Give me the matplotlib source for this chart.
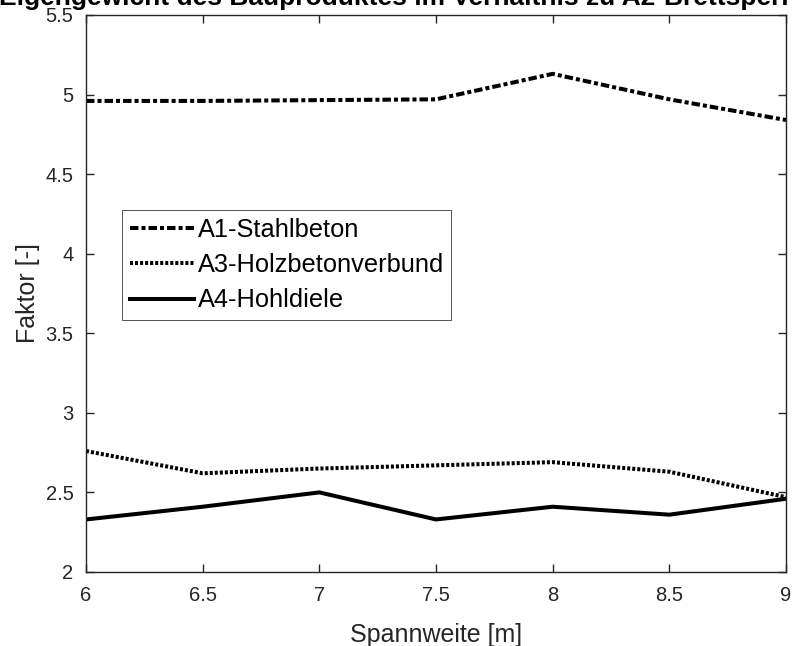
import matplotlib
matplotlib.use("Agg")
import matplotlib.pyplot as plt

plt.rcParams['font.family'] = ['Liberation Sans', 'DejaVu Sans']

spannweite = [6, 6.5, 7, 7.5, 8, 8.5, 9]
a1_stahlbeton = [4.96, 4.96, 4.965, 4.97, 5.13, 4.97, 4.84]
a3_holzbeton = [2.76, 2.62, 2.65, 2.67, 2.69, 2.63, 2.47]
a4_hohldiele = [2.33, 2.41, 2.50, 2.33, 2.41, 2.36, 2.46]

xticks = [6, 6.5, 7, 7.5, 8, 8.5, 9]
yticks = [2, 2.5, 3, 3.5, 4, 4.5, 5, 5.5]

fig = plt.figure(figsize=(7.92, 6.46), dpi=100)
ax = fig.add_axes([0.1086, 0.1146, 0.8838, 0.8622])

lw = 2.9
ax.plot(spannweite, a1_stahlbeton, color='black', lw=lw, linestyle=(0, (2.1, 0.75, 1.0, 0.75)), label='A1-Stahlbeton')
ax.plot(spannweite, a3_holzbeton, color='black', lw=lw, linestyle=(0, (0.75, 0.5)), label='A3-Holzbetonverbund')
ax.plot(spannweite, a4_hohldiele, color='black', lw=lw, linestyle='-', label='A4-Hohldiele')

ax.set_xlim(6, 9)
ax.set_ylim(2, 5.5)
ax.set_xticks(xticks)
ax.set_xticklabels(['6', '6.5', '7', '7.5', '8', '8.5', '9'])
ax.set_yticks(yticks)
ax.set_yticklabels(['2', '2.5', '3', '3.5', '4', '4.5', '5', '5.5'])
ax.tick_params(direction='in', top=True, right=True, labelsize=14.5, length=6, width=1, colors='#262626')
ax.tick_params(axis='x', pad=10)
ax.tick_params(axis='y', pad=9)
for s in ax.spines.values():
    s.set_color('#262626')
    s.set_linewidth(1)

ax.set_xlabel('Spannweite [m]', fontsize=18, color='#262626', labelpad=13)
ax.set_ylabel('Faktor [-]', fontsize=18, color='#262626', labelpad=4)
fig.text(0.533, 1 - 5 / 646, 'Eigengewicht des Bauproduktes im Verhältnis zu A2-Brettsperrholz',
         fontsize=19, fontweight='bold', ha='center', va='baseline')

leg = ax.legend(loc='upper left', bbox_to_anchor=(0.0514, 0.650), fontsize=18.3, frameon=True, fancybox=False,
                edgecolor='#262626', handlelength=2.55, handletextpad=0.12, borderpad=0.3, labelspacing=0.45,
                borderaxespad=0)
leg.get_frame().set_linewidth(0.7)

fig.savefig('out.png', dpi=100)
